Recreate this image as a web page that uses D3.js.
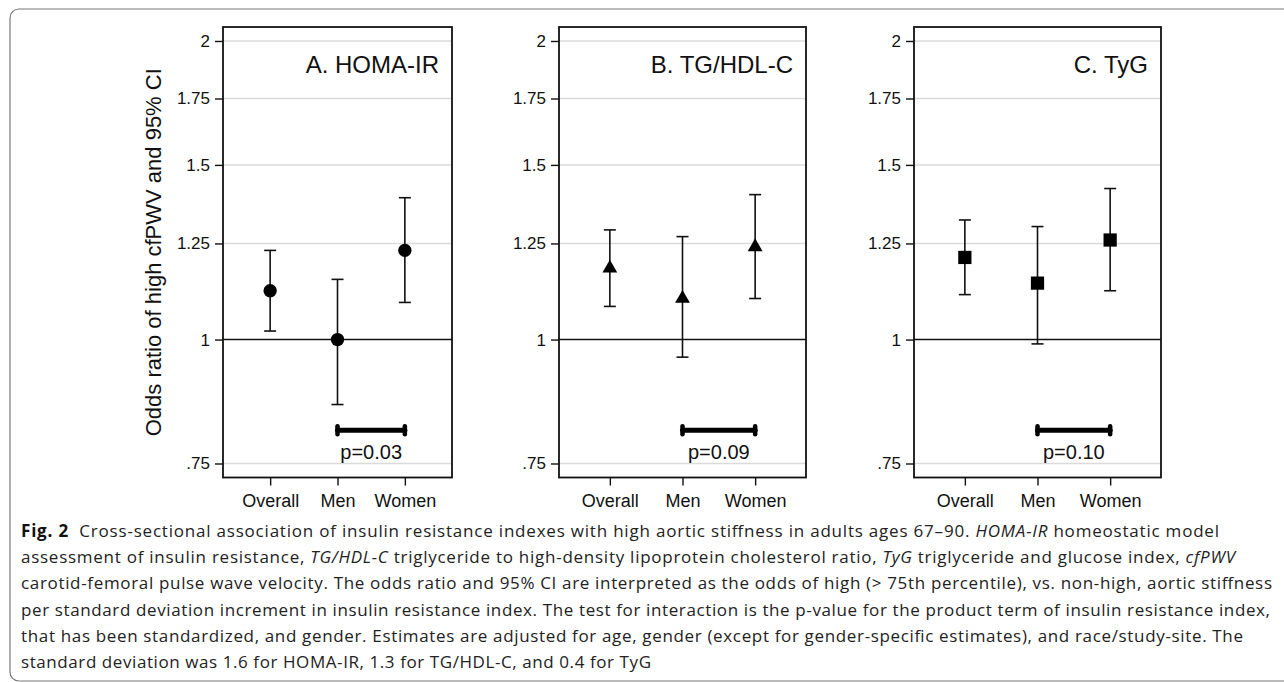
<!DOCTYPE html>
<html>
<head>
<meta charset="utf-8">
<script src="https://cdn.jsdelivr.net/npm/d3@7"></script>
<style>
  body { margin: 0; background: #fff; }
  svg { display: block; }
</style>
</head>
<body>
<svg id="chart" width="1284" height="682"></svg>
<script>
// data (odds ratio, 95% CI)
const categories = ["Overall", "Men", "Women"];
const panelTitles = ["A. HOMA-IR", "B. TG/HDL-C", "C. TyG"];
const markerShapes = ["circle", "triangle", "square"];

const homaOR = [1.12, 1.00, 1.23];
const homaLow = [1.02, 0.86, 1.09];
const homaHigh = [1.23, 1.15, 1.39];

const tgHdlOR = [1.18, 1.10, 1.24];
const tgHdlLow = [1.08, 0.96, 1.10];
const tgHdlHigh = [1.29, 1.27, 1.40];

const tygOR = [1.21, 1.14, 1.26];
const tygLow = [1.11, 0.99, 1.12];
const tygHigh = [1.32, 1.30, 1.42];

const pValues = ["p=0.03", "p=0.09", "p=0.10"];
const interactionLevel = 0.81;

const yTicks = [0.75, 1, 1.25, 1.5, 1.75, 2];
const yTickLabels = [".75", "1", "1.25", "1.5", "1.75", "2"];

const captionLines = [
  [["Fig. 2", "b"], ["  Cross-sectional association of insulin resistance indexes with high aortic stiffness in adults ages 67\u201390. ", ""], ["HOMA-IR", "i"], [" homeostatic model", ""]],
  [["assessment of insulin resistance, ", ""], ["TG/HDL-C", "i"], [" triglyceride to high-density lipoprotein cholesterol ratio, ", ""], ["TyG", "i"], [" triglyceride and glucose index, ", ""], ["cfPWV", "i"]],
  [["carotid-femoral pulse wave velocity. The odds ratio and 95% CI are interpreted as the odds of high (> 75th percentile), vs. non-high, aortic stiffness", ""]],
  [["per standard deviation increment in insulin resistance index. The test for interaction is the p-value for the product term of insulin resistance index,", ""]],
  [["that has been standardized, and gender. Estimates are adjusted for age, gender (except for gender-specific estimates), and race/study-site. The", ""]],
  [["standard deviation was 1.6 for HOMA-IR, 1.3 for TG/HDL-C, and 0.4 for TyG", ""]]
];
const captionWidths = [1198, 1214, 1251, 1249, 1222, 630];

const series = [
  { or: homaOR, low: homaLow, high: homaHigh },
  { or: tgHdlOR, low: tgHdlLow, high: tgHdlHigh },
  { or: tygOR, low: tygLow, high: tygHigh }
];

// layout
const FONT = "'Liberation Sans', Arial, sans-serif";
const PLOT_TOP = 27;
const PLOT_BOTTOM = 477.5;
const panelBounds = [[223, 452], [559, 806], [914, 1161]];
const CAP = 6;

const svg = d3.select("#chart");

// outer figure frame
svg.append("rect")
  .attr("x", 10).attr("y", 9)
  .attr("width", 1320).attr("height", 672)
  .attr("rx", 9)
  .attr("fill", "none")
  .attr("stroke", "#777")
  .attr("stroke-width", 1.2);

const y = d3.scaleLog()
  .domain([0.726, 2.066])
  .range([PLOT_BOTTOM, PLOT_TOP]);

panelBounds.forEach(([left, right], p) => {
  const x = d3.scaleLinear().domain([0.3, 3.7]).range([left, right]);
  const g = svg.append("g");
  const s = series[p];

  // gridlines
  g.append("g")
    .selectAll("line")
    .data(yTicks.filter(t => t !== 1))
    .join("line")
      .attr("x1", left).attr("x2", right)
      .attr("y1", d => y(d)).attr("y2", d => y(d))
      .attr("stroke", "#dadada")
      .attr("stroke-width", 1.5);

  // reference line at OR = 1
  g.append("line")
    .attr("x1", left).attr("x2", right)
    .attr("y1", y(1)).attr("y2", y(1))
    .attr("stroke", "#111")
    .attr("stroke-width", 1.6);

  // y axis
  const yAxis = g.append("g")
    .attr("transform", `translate(${left},0)`)
    .call(d3.axisLeft(y)
      .tickValues(yTicks)
      .tickFormat((d, i) => yTickLabels[i])
      .tickSize(8)
      .tickPadding(5));
  yAxis.select(".domain").remove();
  yAxis.selectAll("line").attr("stroke", "#111").attr("stroke-width", 1.4);
  yAxis.selectAll("text")
    .attr("font-family", FONT)
    .attr("font-size", 17)
    .attr("fill", "#111");

  // x axis
  const xAxis = g.append("g")
    .attr("transform", `translate(0,${PLOT_BOTTOM})`)
    .call(d3.axisBottom(x)
      .tickValues([1, 2, 3])
      .tickFormat((d, i) => categories[i])
      .tickSize(8)
      .tickPadding(9));
  xAxis.select(".domain").remove();
  xAxis.selectAll("line").attr("stroke", "#111").attr("stroke-width", 1.4);
  xAxis.selectAll("text")
    .attr("font-family", FONT)
    .attr("font-size", 18)
    .attr("fill", "#111");

  // plot frame
  g.append("rect")
    .attr("x", left).attr("y", PLOT_TOP)
    .attr("width", right - left).attr("height", PLOT_BOTTOM - PLOT_TOP)
    .attr("fill", "none")
    .attr("stroke", "#111")
    .attr("stroke-width", 1.8);

  // panel title
  g.append("text")
    .attr("x", right - 13)
    .attr("y", 73)
    .attr("text-anchor", "end")
    .attr("font-family", FONT)
    .attr("font-size", 24)
    .attr("fill", "#111")
    .text(panelTitles[p]);

  // error bars
  const rows = categories.map((c, i) => ({ i: i + 1, or: s.or[i], low: s.low[i], high: s.high[i] }));
  const bars = g.append("g")
    .attr("stroke", "#111")
    .attr("stroke-width", 1.6);
  bars.selectAll(".ci")
    .data(rows)
    .join("line")
      .attr("x1", d => x(d.i)).attr("x2", d => x(d.i))
      .attr("y1", d => y(d.low)).attr("y2", d => y(d.high));
  bars.selectAll(".capHi")
    .data(rows)
    .join("line")
      .attr("x1", d => x(d.i) - CAP).attr("x2", d => x(d.i) + CAP)
      .attr("y1", d => y(d.high)).attr("y2", d => y(d.high));
  bars.selectAll(".capLo")
    .data(rows)
    .join("line")
      .attr("x1", d => x(d.i) - CAP).attr("x2", d => x(d.i) + CAP)
      .attr("y1", d => y(d.low)).attr("y2", d => y(d.low));

  // point estimates
  const symbolType = { circle: d3.symbolCircle, triangle: d3.symbolTriangle, square: d3.symbolSquare };
  const symbolSize = { circle: 140, triangle: 95, square: 175 };
  const shape = markerShapes[p];
  g.append("g")
    .selectAll("path")
    .data(rows)
    .join("path")
      .attr("transform", d => `translate(${x(d.i)},${y(d.or)})`)
      .attr("d", d3.symbol(symbolType[shape], symbolSize[shape]))
      .attr("fill", "#000");

  // interaction bar between Men and Women
  const iy = y(interactionLevel);
  const ib = g.append("g").attr("stroke", "#000").attr("stroke-linecap", "round");
  ib.append("line")
    .attr("x1", x(2)).attr("x2", x(3))
    .attr("y1", iy).attr("y2", iy)
    .attr("stroke-width", 5);
  ib.selectAll(".end")
    .data([2, 3])
    .join("line")
      .attr("x1", d => x(d)).attr("x2", d => x(d))
      .attr("y1", iy - 4).attr("y2", iy + 4)
      .attr("stroke-width", 4.5);

  g.append("text")
    .attr("x", (x(2) + x(3)) / 2)
    .attr("y", iy + 29)
    .attr("text-anchor", "middle")
    .attr("font-family", FONT)
    .attr("font-size", 20)
    .attr("fill", "#111")
    .text(pValues[p]);
});

// y axis title (first panel only)
svg.append("text")
  .attr("transform", `translate(161,${(PLOT_TOP + PLOT_BOTTOM) / 2}) rotate(-90)`)
  .attr("text-anchor", "middle")
  .attr("font-family", FONT)
  .attr("font-size", 22)
  .attr("fill", "#111")
  .text("Odds ratio of high cfPWV and 95% CI");

// caption
const cap = svg.append("g")
  .attr("font-family", "'Open Sans', 'Noto Sans', sans-serif")
  .attr("font-size", 17)
  .attr("fill", "#222");

captionLines.forEach((parts, li) => {
  const t = cap.append("text")
    .attr("x", 21)
    .attr("y", 537 + li * 26.2)
    .attr("xml:space", "preserve")
    .attr("textLength", captionWidths[li])
    .attr("lengthAdjust", "spacing");
  parts.forEach(([txt, style]) => {
    const sp = t.append("tspan").text(txt);
    if (style === "b") sp.attr("font-weight", "bold").attr("fill", "#111");
    if (style === "i") sp.attr("font-style", "italic");
  });
});
</script>
</body>
</html>
